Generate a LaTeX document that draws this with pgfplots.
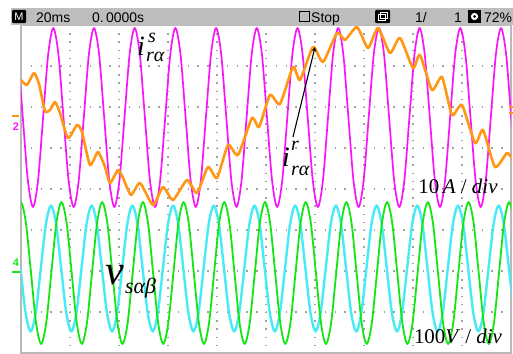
\documentclass[border=0pt]{standalone}
\usepackage{pgfplots}
\pgfplotsset{compat=1.18}
\usepackage{fontspec}
\setmainfont{Liberation Serif}
\newfontfamily\uifont{Liberation Sans}
\definecolor{mag}{RGB}{250,20,250}
\definecolor{org}{RGB}{255,150,20}
\definecolor{grn}{RGB}{20,230,20}
\definecolor{cyn}{RGB}{70,235,245}
\definecolor{barg}{RGB}{190,190,190}
\definecolor{gridg}{RGB}{160,160,160}
\begin{document}
\begin{tikzpicture}[x=1bp,y=1bp]
\useasboundingbox (0,0) rectangle (513,353);
\fill[white] (0,0) rectangle (513,353);
\begin{axis}[at={(21bp,0bp)}, anchor=south west, scale only axis,
  width=490bp, height=328bp,
  xmin=21, xmax=511, ymin=25, ymax=353, y dir=reverse,
  xtick={70,119,168,217,266,315,364,413,462},
  ytick={66,107,148,189,230,271,312},
  xticklabels={}, yticklabels={},
  tick style={draw=none},
  axis line style={draw=gray!55, line width=1.5bp},
  grid=major,
  major x grid style={gridg, line width=1.4bp, dash pattern=on 1.4bp off 6.8bp},
  major y grid style={gridg, line width=1.4bp, dash pattern=on 1.4bp off 8.4bp},
  every axis plot/.append style={no markers, line join=round},
  clip=true]
% cyan
\addplot[cyn, line width=2.4bp, smooth] coordinates {
(10.3,205.5)(15.4,224.0)(20.5,268.5)(25.6,313.0)(30.7,331.5)(35.7,313.0)(40.8,268.5)(45.9,224.0)
(51.0,205.5)(56.1,224.0)(61.2,268.5)(66.3,313.0)(71.4,331.5)(76.4,313.0)(81.5,268.5)(86.6,224.0)
(91.7,205.5)(96.8,224.0)(101.9,268.5)(107.0,313.0)(112.1,331.5)(117.1,313.0)(122.2,268.5)(127.3,224.0)
(132.4,205.5)(137.5,224.0)(142.6,268.5)(147.7,313.0)(152.8,331.5)(157.8,313.0)(162.9,268.5)(168.0,224.0)
(173.1,205.5)(178.2,224.0)(183.3,268.5)(188.4,313.0)(193.5,331.5)(198.5,313.0)(203.6,268.5)(208.7,224.0)
(213.8,205.5)(218.9,224.0)(224.0,268.5)(229.1,313.0)(234.2,331.5)(239.2,313.0)(244.3,268.5)(249.4,224.0)
(254.5,205.5)(259.6,224.0)(264.7,268.5)(269.8,313.0)(274.9,331.5)(279.9,313.0)(285.0,268.5)(290.1,224.0)
(295.2,205.5)(300.3,224.0)(305.4,268.5)(310.5,313.0)(315.6,331.5)(320.6,313.0)(325.7,268.5)(330.8,224.0)
(335.9,205.5)(341.0,224.0)(346.1,268.5)(351.2,313.0)(356.3,331.5)(361.3,313.0)(366.4,268.5)(371.5,224.0)
(376.6,205.5)(381.7,224.0)(386.8,268.5)(391.9,313.0)(397.0,331.5)(402.0,313.0)(407.1,268.5)(412.2,224.0)
(417.3,205.5)(422.4,224.0)(427.5,268.5)(432.6,313.0)(437.7,331.5)(442.7,313.0)(447.8,268.5)(452.9,224.0)
(458.0,205.5)(463.1,224.0)(468.2,268.5)(473.3,313.0)(478.4,331.5)(483.4,313.0)(488.5,268.5)(493.6,224.0)
(498.7,205.5)(503.8,224.0)(508.9,268.5)(514.0,313.0)};
% green
\addplot[grn, line width=1.8bp, smooth] coordinates {
(15.7,222.8)(20.8,202)(25.9,222.8)(31.0,273)(36.1,323.2)(41.1,344)(46.2,323.2)(51.3,273)
(56.4,222.8)(61.5,202)(66.6,222.8)(71.7,273)(76.8,323.2)(81.8,344)(86.9,323.2)(92.0,273)
(97.1,222.8)(102.2,202)(107.3,222.8)(112.4,273)(117.5,323.2)(122.5,344)(127.6,323.2)(132.7,273)
(137.8,222.8)(142.9,202)(148.0,222.8)(153.1,273)(158.2,323.2)(163.2,344)(168.3,323.2)(173.4,273)
(178.5,222.8)(183.6,202)(188.7,222.8)(193.8,273)(198.9,323.2)(203.9,344)(209.0,323.2)(214.1,273)
(219.2,222.8)(224.3,202)(229.4,222.8)(234.5,273)(239.6,323.2)(244.6,344)(249.7,323.2)(254.8,273)
(259.9,222.8)(265.0,202)(270.1,222.8)(275.2,273)(280.3,323.2)(285.3,344)(290.4,323.2)(295.5,273)
(300.6,222.8)(305.7,202)(310.8,222.8)(315.9,273)(321.0,323.2)(326.0,344)(331.1,323.2)(336.2,273)
(341.3,222.8)(346.4,202)(351.5,222.8)(356.6,273)(361.7,323.2)(366.7,344)(371.8,323.2)(376.9,273)
(382.0,222.8)(387.1,202)(392.2,222.8)(397.3,273)(402.4,323.2)(407.4,344)(412.5,323.2)(417.6,273)
(422.7,222.8)(427.8,202)(432.9,222.8)(438.0,273)(443.1,323.2)(448.1,344)(453.2,323.2)(458.3,273)
(463.4,222.8)(468.5,202)(473.6,222.8)(478.7,273)(483.8,323.2)(488.8,344)(493.9,323.2)(499.0,273)
(504.1,222.8)(509.2,202)(514.3,222.8)};
% magenta
\addplot[mag, line width=1.7bp, smooth] coordinates {
(12.6,28)(17.7,54.2)(22.8,117.5)(27.9,180.8)(33.0,207)(38.0,180.8)(43.1,117.5)(48.2,54.2)
(53.3,28)(58.4,54.2)(63.5,117.5)(68.6,180.8)(73.7,207)(78.7,180.8)(83.8,117.5)(88.9,54.2)
(94.0,28)(99.1,54.2)(104.2,117.5)(109.3,180.8)(114.4,207)(119.4,180.8)(124.5,117.5)(129.6,54.2)
(134.7,28)(139.8,54.2)(144.9,117.5)(150.0,180.8)(155.1,207)(160.1,180.8)(165.2,117.5)(170.3,54.2)
(175.4,28)(180.5,54.2)(185.6,117.5)(190.7,180.8)(195.8,207)(200.8,180.8)(205.9,117.5)(211.0,54.2)
(216.1,28)(221.2,54.2)(226.3,117.5)(231.4,180.8)(236.5,207)(241.5,180.8)(246.6,117.5)(251.7,54.2)
(256.8,28)(261.9,54.2)(267.0,117.5)(272.1,180.8)(277.2,207)(282.2,180.8)(287.3,117.5)(292.4,54.2)
(297.5,28)(302.6,54.2)(307.7,117.5)(312.8,180.8)(317.9,207)(322.9,180.8)(328.0,117.5)(333.1,54.2)
(338.2,28)(343.3,54.2)(348.4,117.5)(353.5,180.8)(358.6,207)(363.6,180.8)(368.7,117.5)(373.8,54.2)
(378.9,28)(384.0,54.2)(389.1,117.5)(394.2,180.8)(399.3,207)(404.3,180.8)(409.4,117.5)(414.5,54.2)
(419.6,28)(424.7,54.2)(429.8,117.5)(434.9,180.8)(440.0,207)(445.0,180.8)(450.1,117.5)(455.2,54.2)
(460.3,28)(465.4,54.2)(470.5,117.5)(475.6,180.8)(480.7,207)(485.7,180.8)(490.8,117.5)(495.9,54.2)
(501.0,28)(506.1,54.2)(511.2,117.5)(516.3,180.8)};
% orange
\addplot[org, line width=2.6bp, smooth, tension=0.35] coordinates {
(21,80)(27,85)(34,73)(39,84)(45,111)(50,110)(55,102)(60,113)(68,138)(77,125)(82,132)
(90,165)(98,152)(105,167)(110,183)(118,170)(123,178)(131,195)(140,183)(153,205)(163,187)
(173,200)(187,180)(197,193)(208,167)(217,178)(228,145)(238,155)(252,118)(259,127)(270,95)
(280,104)(293,67)(300,80)(313,47)(323,62)(337,33)(345,40)(357,27)(368,48)(378,28)(390,53)
(400,38)(413,68)(420,55)(432,90)(442,77)(452,115)(462,105)(475,143)(483,130)(495,167)
(507,153)(513,160)};
\end{axis}
% top status bar
\fill[barg] (11,328) rectangle (513,345);
\begin{scope}
\clip (11,328) rectangle (513,345);
\fill[black, rounded corners=1bp] (12,330) rectangle (26,343);
\node[white, inner sep=0, font=\uifont\fontsize{11}{11}\selectfont] at (19,336.5) {M};
\node[anchor=base west, inner sep=0, font=\uifont\fontsize{14}{14}\selectfont] at (36,331) {20ms};
\node[anchor=base west, inner sep=0, font=\uifont\fontsize{14}{14}\selectfont] at (92,331) {0.\,0000s};
\draw[black, line width=1.8bp] (299.5,331.5) rectangle (309.5,341.5);
\node[anchor=base west, inner sep=0, font=\uifont\fontsize{14}{14}\selectfont] at (311,331) {Stop};
\fill[black, rounded corners=1bp] (375,330) rectangle (390,343);
\draw[white, line width=0.8bp] (378,332.5) rectangle (385,338.5);
\draw[white, line width=0.8bp] (380.5,335) rectangle (387,341);
\node[anchor=base west, inner sep=0, font=\uifont\fontsize{14}{14}\selectfont] at (415,331) {1/};
\node[anchor=base west, inner sep=0, font=\uifont\fontsize{14}{14}\selectfont] at (454,331) {1};
\fill[black] (468,330) rectangle (481,343);
\fill[white] (474.5,336.5) circle (3.6);
\fill[black] (474.5,336.5) circle (1.5);
\node[anchor=base west, inner sep=0, font=\uifont\fontsize{14}{14}\selectfont] at (484,331) {72\%};
\end{scope}
% channel markers
\draw[org, line width=1.5bp] (12,237) -- (19,237);
\node[mag, inner sep=0, font=\uifont\bfseries\fontsize{11}{11}\selectfont] at (16,226) {2};
\node[grn, inner sep=0, font=\uifont\bfseries\fontsize{11}{11}\selectfont] at (16,90) {4};
\draw[grn, line width=1.5bp] (12,81) -- (20,81);
\draw[org, line width=1.2bp] (509,246) -- (513,246);
\draw[org, line width=1.2bp] (509,240) -- (513,240);
% annotations: i_{r alpha}^s
\node[anchor=base west, inner sep=0, font=\itshape\fontsize{28}{28}\selectfont] at (137,298) {i};
\node[anchor=base west, inner sep=0, font=\itshape\fontsize{20}{20}\selectfont] at (148,311) {s};
\node[anchor=base west, inner sep=0, font=\itshape\fontsize{20}{20}\selectfont] at (146,292) {rα};
% i_{r alpha}^r
\node[anchor=base west, inner sep=0, font=\itshape\fontsize{28}{28}\selectfont] at (282,187) {i};
\node[anchor=base west, inner sep=0, font=\itshape\fontsize{20}{20}\selectfont] at (291,203) {r};
\node[anchor=base west, inner sep=0, font=\itshape\fontsize{20}{20}\selectfont] at (291,178) {rα};
\draw[-stealth, line width=1.1bp] (293,216) -- (315,306);
\node[inner sep=0, font=\fontsize{21}{21}\selectfont] at (458,167) {10\,\textit{A} / \textit{div}};
\node[inner sep=0, font=\fontsize{21}{21}\selectfont] at (458,17) {100\textit{V} / \textit{div}};
% v_{s alpha beta}
\node[anchor=base west, inner sep=0, font=\itshape\fontsize{42}{42}\selectfont] at (105,69) {v};
\node[anchor=base west, inner sep=0, font=\itshape\fontsize{22}{22}\selectfont] at (125,60) {sαβ};
\end{tikzpicture}
\end{document}
